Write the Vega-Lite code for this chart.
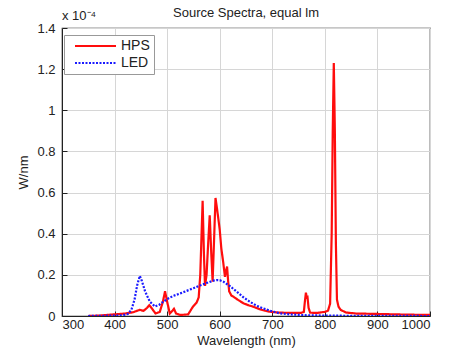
{
  "$schema": "https://vega.github.io/schema/vega-lite/v6.json",
  "width": 368,
  "height": 288,
  "autosize": {"type": "none"},
  "padding": {"left": 62, "top": 28, "right": 44, "bottom": 39},
  "background": "white",
  "config": {
    "font": "Liberation Sans",
    "view": {"stroke": "#222222", "strokeWidth": 1.2},
    "axis": {
      "gridColor": "#d6d6d6",
      "gridWidth": 1,
      "domainColor": "#222222",
      "tickColor": "#222222",
      "labelColor": "#222222",
      "titleColor": "#222222",
      "labelFont": "Liberation Sans",
      "titleFont": "Liberation Sans",
      "labelFontSize": 13,
      "titleFontSize": 13,
      "titleFontWeight": "normal"
    }
  },
  "title": {
    "text": "Source Spectra, equal lm",
    "fontSize": 13,
    "fontWeight": "normal",
    "font": "Liberation Sans",
    "color": "#222222",
    "offset": 0,
    "dy": 10
  },
  "data": {
    "values": [
      {"series": "HPS", "wavelength": 350, "power": 0},
      {"series": "HPS", "wavelength": 370, "power": 0.002},
      {"series": "HPS", "wavelength": 400, "power": 0.008},
      {"series": "HPS", "wavelength": 420, "power": 0.012},
      {"series": "HPS", "wavelength": 435, "power": 0.018},
      {"series": "HPS", "wavelength": 448, "power": 0.03},
      {"series": "HPS", "wavelength": 455, "power": 0.025},
      {"series": "HPS", "wavelength": 462, "power": 0.04},
      {"series": "HPS", "wavelength": 466, "power": 0.052},
      {"series": "HPS", "wavelength": 470, "power": 0.04},
      {"series": "HPS", "wavelength": 478, "power": 0.012},
      {"series": "HPS", "wavelength": 486, "power": 0.02},
      {"series": "HPS", "wavelength": 492, "power": 0.07},
      {"series": "HPS", "wavelength": 496, "power": 0.12},
      {"series": "HPS", "wavelength": 500, "power": 0.07},
      {"series": "HPS", "wavelength": 505, "power": 0.012},
      {"series": "HPS", "wavelength": 510, "power": 0.025},
      {"series": "HPS", "wavelength": 513, "power": 0.035},
      {"series": "HPS", "wavelength": 517, "power": 0.012},
      {"series": "HPS", "wavelength": 525, "power": 0.005},
      {"series": "HPS", "wavelength": 540, "power": 0.008},
      {"series": "HPS", "wavelength": 549, "power": 0.045},
      {"series": "HPS", "wavelength": 556, "power": 0.065},
      {"series": "HPS", "wavelength": 560, "power": 0.09},
      {"series": "HPS", "wavelength": 563, "power": 0.2},
      {"series": "HPS", "wavelength": 565.5, "power": 0.4},
      {"series": "HPS", "wavelength": 567.5, "power": 0.56},
      {"series": "HPS", "wavelength": 570, "power": 0.3},
      {"series": "HPS", "wavelength": 572, "power": 0.146},
      {"series": "HPS", "wavelength": 575, "power": 0.2},
      {"series": "HPS", "wavelength": 578, "power": 0.35},
      {"series": "HPS", "wavelength": 581, "power": 0.49},
      {"series": "HPS", "wavelength": 584, "power": 0.3},
      {"series": "HPS", "wavelength": 586.5, "power": 0.167},
      {"series": "HPS", "wavelength": 589, "power": 0.35},
      {"series": "HPS", "wavelength": 592, "power": 0.574},
      {"series": "HPS", "wavelength": 595, "power": 0.52},
      {"series": "HPS", "wavelength": 600, "power": 0.42},
      {"series": "HPS", "wavelength": 603, "power": 0.33},
      {"series": "HPS", "wavelength": 606.7, "power": 0.26},
      {"series": "HPS", "wavelength": 610, "power": 0.19},
      {"series": "HPS", "wavelength": 612, "power": 0.22},
      {"series": "HPS", "wavelength": 614, "power": 0.24},
      {"series": "HPS", "wavelength": 616, "power": 0.17},
      {"series": "HPS", "wavelength": 618, "power": 0.12},
      {"series": "HPS", "wavelength": 622, "power": 0.1},
      {"series": "HPS", "wavelength": 626, "power": 0.094},
      {"series": "HPS", "wavelength": 635, "power": 0.078},
      {"series": "HPS", "wavelength": 645, "power": 0.062},
      {"series": "HPS", "wavelength": 655, "power": 0.052},
      {"series": "HPS", "wavelength": 664, "power": 0.045},
      {"series": "HPS", "wavelength": 676, "power": 0.033},
      {"series": "HPS", "wavelength": 686, "power": 0.026},
      {"series": "HPS", "wavelength": 695, "power": 0.021},
      {"series": "HPS", "wavelength": 710, "power": 0.017},
      {"series": "HPS", "wavelength": 720, "power": 0.016},
      {"series": "HPS", "wavelength": 740, "power": 0.015},
      {"series": "HPS", "wavelength": 755, "power": 0.015},
      {"series": "HPS", "wavelength": 760, "power": 0.02},
      {"series": "HPS", "wavelength": 762, "power": 0.07},
      {"series": "HPS", "wavelength": 764, "power": 0.114},
      {"series": "HPS", "wavelength": 765.5, "power": 0.09},
      {"series": "HPS", "wavelength": 767, "power": 0.092},
      {"series": "HPS", "wavelength": 769, "power": 0.04},
      {"series": "HPS", "wavelength": 772, "power": 0.016},
      {"series": "HPS", "wavelength": 785, "power": 0.015},
      {"series": "HPS", "wavelength": 800, "power": 0.02},
      {"series": "HPS", "wavelength": 806, "power": 0.026},
      {"series": "HPS", "wavelength": 810, "power": 0.06},
      {"series": "HPS", "wavelength": 813, "power": 0.4},
      {"series": "HPS", "wavelength": 815, "power": 0.9},
      {"series": "HPS", "wavelength": 817, "power": 1.23},
      {"series": "HPS", "wavelength": 819, "power": 0.9},
      {"series": "HPS", "wavelength": 821, "power": 0.35},
      {"series": "HPS", "wavelength": 823, "power": 0.08},
      {"series": "HPS", "wavelength": 826, "power": 0.045},
      {"series": "HPS", "wavelength": 830, "power": 0.03},
      {"series": "HPS", "wavelength": 840, "power": 0.017},
      {"series": "HPS", "wavelength": 860, "power": 0.012},
      {"series": "HPS", "wavelength": 900, "power": 0.01},
      {"series": "HPS", "wavelength": 950, "power": 0.007},
      {"series": "HPS", "wavelength": 1000, "power": 0.005},
      {"series": "LED", "wavelength": 350, "power": 0},
      {"series": "LED", "wavelength": 400, "power": 0.002},
      {"series": "LED", "wavelength": 415, "power": 0.003},
      {"series": "LED", "wavelength": 425, "power": 0.01},
      {"series": "LED", "wavelength": 432, "power": 0.03},
      {"series": "LED", "wavelength": 438, "power": 0.08},
      {"series": "LED", "wavelength": 443, "power": 0.15},
      {"series": "LED", "wavelength": 448, "power": 0.195},
      {"series": "LED", "wavelength": 452, "power": 0.17},
      {"series": "LED", "wavelength": 458, "power": 0.12},
      {"series": "LED", "wavelength": 467, "power": 0.07},
      {"series": "LED", "wavelength": 477, "power": 0.046},
      {"series": "LED", "wavelength": 485, "power": 0.055},
      {"series": "LED", "wavelength": 493, "power": 0.07},
      {"series": "LED", "wavelength": 502, "power": 0.085},
      {"series": "LED", "wavelength": 512, "power": 0.098},
      {"series": "LED", "wavelength": 525, "power": 0.11},
      {"series": "LED", "wavelength": 537, "power": 0.122},
      {"series": "LED", "wavelength": 550, "power": 0.135},
      {"series": "LED", "wavelength": 562, "power": 0.148},
      {"series": "LED", "wavelength": 575, "power": 0.16},
      {"series": "LED", "wavelength": 588, "power": 0.172},
      {"series": "LED", "wavelength": 595, "power": 0.175},
      {"series": "LED", "wavelength": 600, "power": 0.174},
      {"series": "LED", "wavelength": 607, "power": 0.167},
      {"series": "LED", "wavelength": 619, "power": 0.146},
      {"series": "LED", "wavelength": 632, "power": 0.119},
      {"series": "LED", "wavelength": 645, "power": 0.091},
      {"series": "LED", "wavelength": 657, "power": 0.07},
      {"series": "LED", "wavelength": 670, "power": 0.05},
      {"series": "LED", "wavelength": 683, "power": 0.037},
      {"series": "LED", "wavelength": 695, "power": 0.026},
      {"series": "LED", "wavelength": 714, "power": 0.013},
      {"series": "LED", "wavelength": 733, "power": 0.008},
      {"series": "LED", "wavelength": 760, "power": 0.004},
      {"series": "LED", "wavelength": 800, "power": 0.002},
      {"series": "LED", "wavelength": 850, "power": 0.001},
      {"series": "LED", "wavelength": 1000, "power": 0}
    ]
  },
  "layer": [
    {
      "mark": {"type": "line", "strokeWidth": 2.2, "clip": true},
      "encoding": {
        "x": {
          "field": "wavelength",
          "type": "quantitative",
          "scale": {"domain": [300, 1000], "nice": false},
          "axis": {"values": [300, 400, 500, 600, 700, 800, 900, 1000], "title": "Wavelength (nm)", "tickSize": -5, "labelPadding": 7, "titlePadding": 3, "format": "d"}
        },
        "y": {
          "field": "power",
          "type": "quantitative",
          "scale": {"domain": [0, 1.4], "nice": false},
          "axis": {"values": [0, 0.2, 0.4, 0.6, 0.8, 1, 1.2, 1.4], "title": "W/nm", "tickSize": -5, "labelPadding": 12, "titlePadding": 6, "format": "~g"}
        },
        "color": {
          "field": "series",
          "type": "nominal",
          "scale": {"domain": ["HPS", "LED"], "range": ["#ff0d0d", "#1a1aff"]},
          "legend": {
            "title": null,
            "orient": "none",
            "legendX": 2,
            "legendY": 7,
            "fillColor": "white",
            "strokeColor": "#999999",
            "padding": 4,
            "labelFontSize": 14,
            "labelColor": "#222222",
            "labelOffset": 39,
            "symbolType": "M0,0H8.2",
            "symbolSize": 100,
            "symbolStrokeWidth": 2,
            "rowPadding": 3
          }
        },
        "strokeDash": {
          "field": "series",
          "type": "nominal",
          "scale": {"domain": ["HPS", "LED"], "range": [[1, 0], [2, 1.5]]},
          "legend": null
        }
      }
    },
    {
      "data": {"values": [{"label": "x 10⁻⁴"}]},
      "mark": {"type": "text", "align": "left", "baseline": "alphabetic", "dy": -8, "fontSize": 13, "color": "#222222", "font": "Liberation Sans"},
      "encoding": {
        "x": {"datum": 300},
        "y": {"datum": 1.4},
        "text": {"field": "label"}
      }
    }
  ]
}
